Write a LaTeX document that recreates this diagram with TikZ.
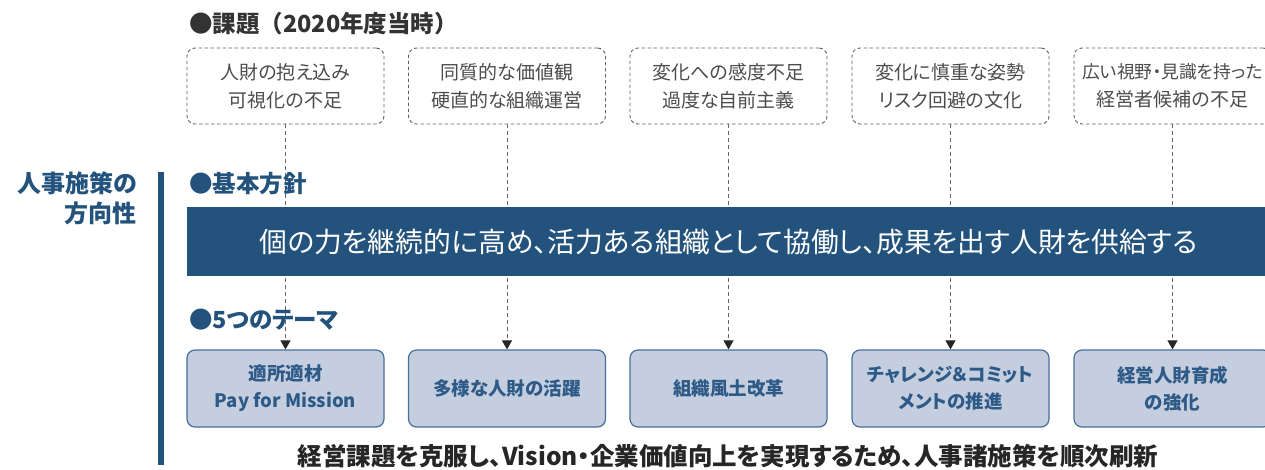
\documentclass[tikz,border=0pt]{standalone}
\usepackage{fontspec}
\setmainfont{Noto Sans CJK JP}[RawFeature={+palt}]
\usepackage{xcolor}
\usetikzlibrary{arrows.meta}
\definecolor{hrblue}{RGB}{35,83,125}
\definecolor{themefill}{RGB}{197,206,223}
\definecolor{themeline}{RGB}{70,110,155}
\definecolor{themetext}{RGB}{45,90,135}

\begin{document}
\begin{tikzpicture}[x=1pt,y=-1pt,
  issue/.style={draw=black!62,line width=0.9pt,dash pattern=on 3.5pt off 2.5pt,rounded corners=8pt,minimum width=197pt,minimum height=76pt,align=center,text=black!70,font=\fontsize{19}{28}\selectfont},
  theme/.style={draw=themeline,line width=1.2pt,fill=themefill,rounded corners=8pt,minimum width=197pt,minimum height=77pt,align=center,text=themetext,font=\bfseries\fontsize{18.5}{27}\selectfont},
  head/.style={anchor=west,inner sep=0pt,font=\bfseries\fontsize{23.5}{26}\selectfont},
  link/.style={draw=black!60,line width=1pt,dash pattern=on 4pt off 3pt,-{Triangle[length=9pt,width=10pt,color=black!85]}}]
\useasboundingbox (0,0) rectangle (1265,469);
\clip (0,0) rectangle (1265,469);
\node[head,text=black!80] (title) at (189,24) {\addfontfeature{RawFeature=-palt}●課題（2020年度当時）};
% issues at that time
\node[issue] (k1) at (285.5,86) {人財の抱え込み\\可視化の不足};
\node[issue] (k2) at (507,86) {同質的な価値観\\硬直的な組織運営};
\node[issue] (k3) at (728.5,86) {変化への感度不足\\過度な自前主義};
\node[issue] (k4) at (950.5,86) {変化に慎重な姿勢\\リスク回避の文化};
\node[issue] (k5) at (1172.5,86) {{\fontsize{17.8}{28}\selectfont 広い視野・見識を持った}\\経営者候補の不足};
% five themes
\node[theme] (t1) at (285.5,388.5) {適所適材\\Pay for Mission};
\node[theme] (t2) at (507,388.5) {多様な人財の活躍};
\node[theme] (t3) at (728.5,388.5) {組織風土改革};
\node[theme] (t4) at (950.5,388.5) {チャレンジ＆コミット\\メントの推進};
\node[theme] (t5) at (1172.5,388.5) {経営人財育成\\の強化};
\draw[link] (k1) -- (t1);
\draw[link] (k2) -- (t2);
\draw[link] (k3) -- (t3);
\draw[link] (k4) -- (t4);
\draw[link] (k5) -- (t5);
% basic policy
\node[fill=hrblue,text=white,anchor=west,minimum width=1083pt,minimum height=69pt,inner sep=0pt,font=\fontsize{27.8}{30}\selectfont] (policy) at (187,241.5) {個の力を継続的に高め、活力ある組織として協働し、成果を出す人財を供給する};
\node[head,text=hrblue] (basic) at (189,184) {●基本方針};
\node[head,text=hrblue] (themes) at (189,320) {●5つのテーマ};
\node[anchor=east,align=right,inner sep=0pt,text=hrblue,font=\bfseries\fontsize{24}{30}\selectfont] (dir) at (137,198) {人事施策の\\方向性};
\fill[hrblue] (158,172) rectangle (164,465);
\node[text=black!85,font=\bfseries\fontsize{24.5}{26}\selectfont] (summary) at (728,456) {経営課題を克服し、Vision・企業価値向上を実現するため、人事諸施策を順次刷新};
\end{tikzpicture}
\end{document}
